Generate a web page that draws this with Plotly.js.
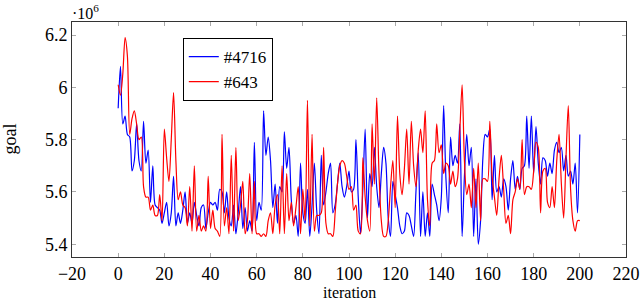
<!DOCTYPE html>
<html>
<head>
<meta charset="utf-8">
<script src="https://cdn.plot.ly/plotly-3.0.1.min.js"></script>
<style>html,body{margin:0;padding:0;background:#fff;}#chart{width:640px;height:303px;}</style>
</head>
<body>
<div id="chart"></div>
<script>
// values in units of 10^6
const blue4716 = [
5.92,6.08,5.86,5.89,5.82,5.81,5.68,5.72,5.86,5.72,
5.68,5.87,5.71,5.76,5.56,5.70,5.55,5.54,5.53,5.48,
5.52,5.56,5.47,5.52,5.66,5.47,5.52,5.48,5.53,5.60,
5.48,5.52,5.48,5.56,5.51,5.47,5.54,5.55,5.46,5.52,
5.56,5.55,5.56,5.53,5.61,5.60,5.52,5.60,5.50,5.47,
5.55,5.44,5.52,5.62,5.46,5.54,5.45,5.49,5.45,5.79,
5.49,5.56,5.53,5.91,5.74,5.81,5.72,5.54,5.63,5.48,
5.62,5.60,5.83,5.69,5.77,5.57,5.48,5.51,5.43,5.71,
5.52,5.48,5.61,5.43,5.55,5.71,5.53,5.44,5.74,5.55,
5.60,5.67,5.71,5.52,5.55,5.63,5.71,5.62,5.58,5.62,
5.68,5.60,5.61,5.80,5.58,5.44,5.61,5.84,5.50,5.67,
5.62,5.77,5.62,5.54,5.67,5.77,5.71,5.50,5.43,5.64,
5.59,5.54,5.47,5.44,5.45,5.52,5.51,5.47,5.43,5.60,
5.75,5.43,5.60,5.43,5.52,5.43,5.63,5.59,5.55,5.49,
5.58,5.93,5.65,5.52,5.81,5.70,5.74,5.71,5.86,5.43,
5.66,5.82,5.70,5.77,5.43,5.65,5.40,5.49,5.73,5.82,
5.81,5.84,5.57,5.74,5.60,5.62,5.58,5.65,5.62,5.53,
5.65,5.72,5.61,5.66,5.61,5.69,5.70,5.89,5.69,5.89,
5.67,5.85,5.71,5.63,5.73,5.72,5.66,5.71,5.67,5.76,
5.79,5.75,5.77,5.68,5.74,5.66,5.68,5.63,5.71,5.52,
5.82
];
const red643 = [
6.01,5.97,6.05,6.19,6.12,5.82,5.88,5.91,5.86,5.80,
5.81,5.62,5.58,5.58,5.53,5.55,5.51,5.51,5.59,5.49,
5.84,5.73,5.64,5.80,5.98,5.72,5.57,5.60,5.55,5.54,
5.47,5.62,5.45,5.70,5.45,5.51,5.45,5.47,5.45,5.66,
5.46,5.53,5.46,5.45,5.43,5.82,5.47,5.54,5.44,5.74,
5.45,5.77,5.49,5.55,5.64,5.44,5.49,5.67,5.44,5.64,
5.44,5.44,5.43,5.44,5.43,5.49,5.52,5.44,5.55,5.59,
5.44,5.70,5.44,5.67,5.49,5.56,5.47,5.54,5.62,5.44,
5.61,5.49,5.95,5.47,5.82,5.45,5.51,5.51,5.52,5.77,
5.48,5.44,5.44,5.43,5.52,5.63,5.70,5.72,5.71,5.66,
5.61,5.62,5.53,5.55,5.45,5.44,5.73,5.58,5.49,5.45,
5.86,5.63,5.96,5.67,5.49,5.43,5.43,5.49,5.62,5.72,
5.54,5.89,5.67,5.59,5.69,5.84,5.63,5.87,5.70,5.62,
5.76,5.84,5.75,5.91,5.57,5.47,5.71,5.72,5.86,5.75,
5.78,5.67,5.71,5.70,5.63,5.68,5.62,5.65,5.83,6.01,
5.72,5.59,5.63,5.54,5.69,5.54,5.71,5.49,5.65,5.65,
5.64,5.87,5.66,5.58,5.51,5.65,5.74,5.61,5.48,5.51,
5.44,5.57,5.60,5.65,5.61,5.80,5.59,5.62,5.62,5.61,
5.68,5.79,5.77,5.52,5.68,5.69,5.56,5.54,5.62,5.54,
5.72,5.82,5.63,5.50,5.73,5.93,5.61,5.49,5.45,5.49,
5.49
];
const iterations = blue4716.map((_, i) => i);
const xTickVals = [-20,0,20,40,60,80,100,120,140,160,180,200,220];
const xTickText = ["\u221220","0","20","40","60","80","100","120","140","160","180","200","220"];
const yTickVals = [5.4,5.6,5.8,6.0,6.2];
const yTickText = ["5.4","5.6","5.8","6","6.2"];
const xTitle = "iteration";
const yTitle = "goal";

const FONT = "Liberation Serif";

const traces = [
  {x: iterations, y: blue4716, name: "#4716", type: "scatter", mode: "lines",
   line: {color: "#0000ff", width: 1.2, shape: "spline", smoothing: 0.8}},
  {x: iterations, y: red643, name: "#643", type: "scatter", mode: "lines",
   line: {color: "#ff0000", width: 1.2, shape: "spline", smoothing: 0.8}}
];

const layout = {
  width: 640, height: 303,
  margin: {l: 72, r: 14, t: 22, b: 46},
  paper_bgcolor: "#fff", plot_bgcolor: "#fff",
  font: {family: FONT, size: 17, color: "#000"},
  showlegend: true,
  legend: {x: 0.2, y: 0.932, xanchor: "left", yanchor: "top",
    bgcolor: "#fff", bordercolor: "#000", borderwidth: 1,
    font: {family: FONT, size: 17}, tracegroupgap: 0},
  xaxis: {range: [-20, 220], tickvals: xTickVals, ticktext: xTickText,
    ticks: "inside", ticklen: 4, tickcolor: "#aaa", showgrid: false, zeroline: false,
    showline: true, linecolor: "#333", linewidth: 1, mirror: "ticks",
    tickfont: {family: FONT, size: 18}},
  yaxis: {range: [5.351, 6.25], tickvals: yTickVals, ticktext: yTickText,
    ticks: "inside", ticklen: 4, tickcolor: "#aaa", showgrid: false, zeroline: false,
    showline: true, linecolor: "#333", linewidth: 1, mirror: "ticks",
    tickfont: {family: FONT, size: 18}},
  annotations: [
    {text: "\u00b710<sup>6</sup>", xref: "paper", yref: "paper", x: 0, y: 1,
     xanchor: "left", yanchor: "bottom", showarrow: false, xshift: -2, yshift: -2,
     font: {family: FONT, size: 16}},
    {text: xTitle, xref: "paper", yref: "paper", x: 0.5, y: 0,
     xanchor: "center", yanchor: "top", showarrow: false, yshift: -26, borderpad: 0,
     font: {family: FONT, size: 16}},
    {text: yTitle, xref: "paper", yref: "paper", x: 0, y: 0.5, textangle: -90,
     xanchor: "center", yanchor: "middle", showarrow: false, xshift: -63,
     font: {family: FONT, size: 18}}
  ]
};

Plotly.newPlot("chart", traces, layout, {staticPlot: true, displayModeBar: false});
</script>
</body>
</html>
